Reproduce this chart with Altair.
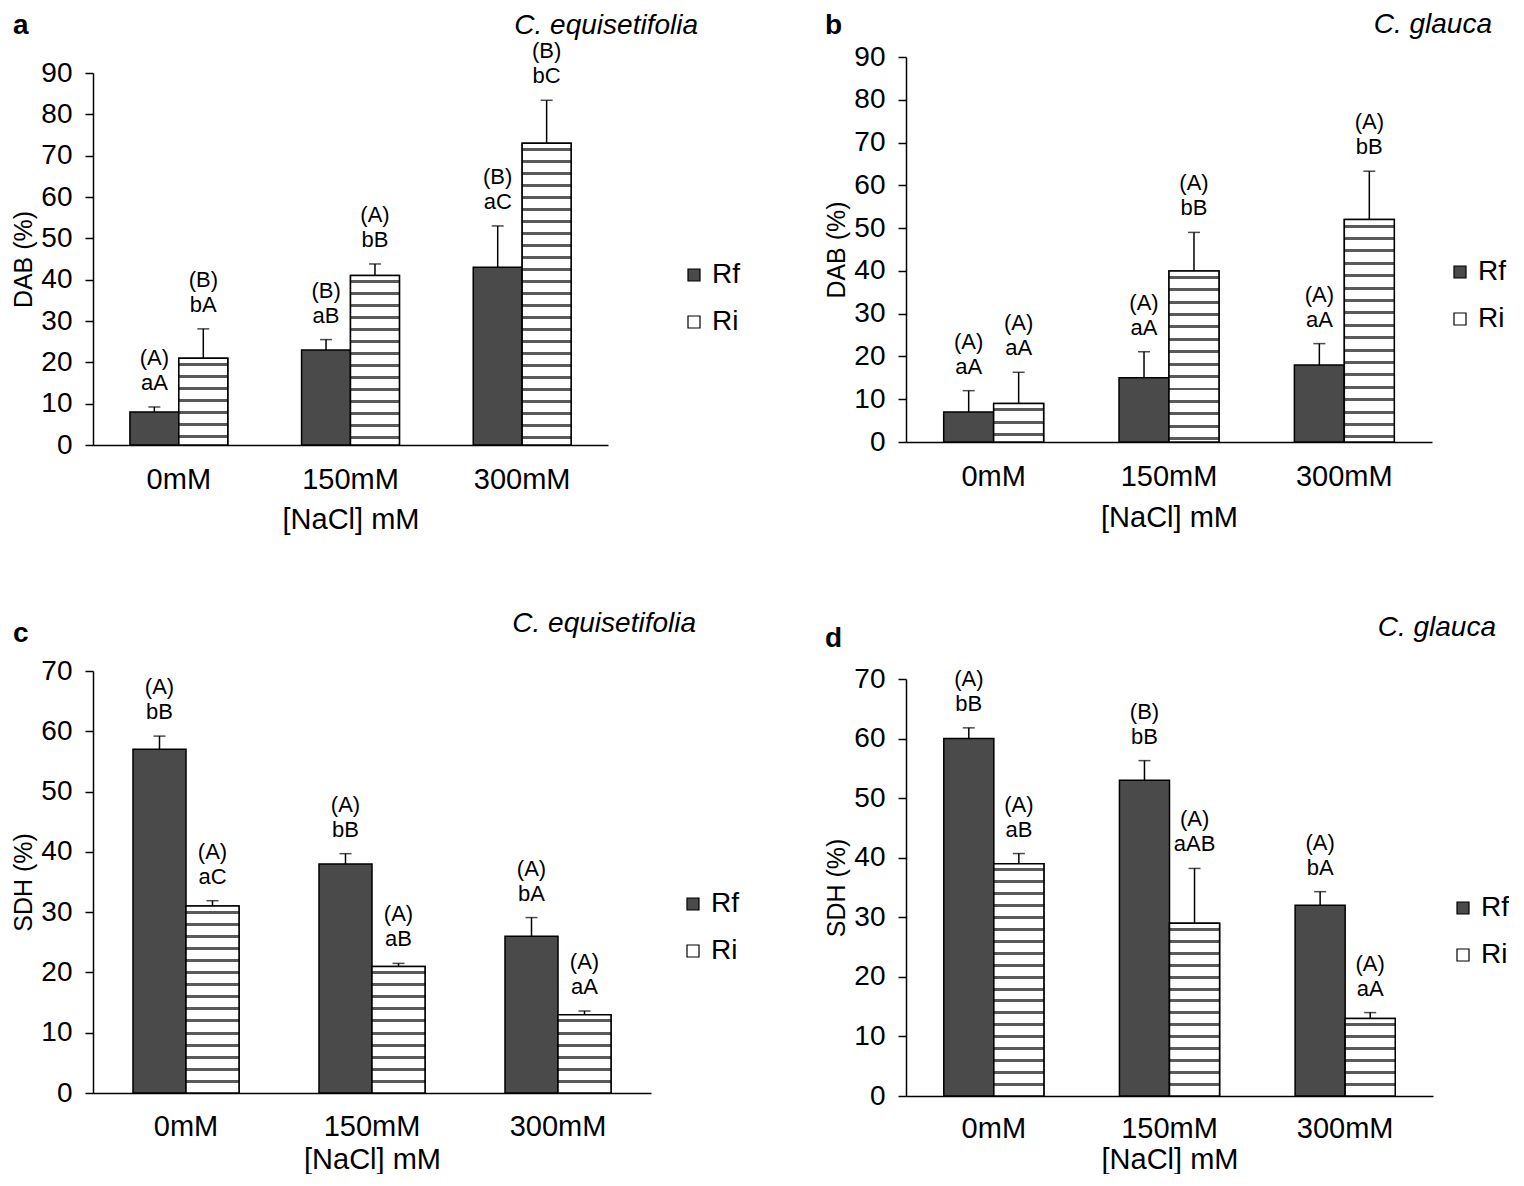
import altair as alt
import pandas as pd

FONT = "Liberation Sans"
categories = ["0mM", "150mM", "300mM"]
series = ["Rf", "Ri"]

# Panel a - DAB, C. equisetifolia
a_rf = [8, 23, 43]
a_rf_err = [1.2, 2.5, 10.0]
a_ri = [21, 41, 73]
a_ri_err = [7.1, 2.8, 10.4]
a_rf_top = ["(A)", "(B)", "(B)"]
a_rf_bot = ["aA", "aB", "aC"]
a_ri_top = ["(B)", "(A)", "(B)"]
a_ri_bot = ["bA", "bB", "bC"]

# Panel b - DAB, C. glauca
b_rf = [7, 15, 18]
b_rf_err = [5.0, 6.1, 5.0]
b_ri = [9, 40, 52]
b_ri_err = [7.3, 9.0, 11.3]
b_rf_top = ["(A)", "(A)", "(A)"]
b_rf_bot = ["aA", "aA", "aA"]
b_ri_top = ["(A)", "(A)", "(A)"]
b_ri_bot = ["aA", "bB", "bB"]

# Panel c - SDH, C. equisetifolia
c_rf = [57, 38, 26]
c_rf_err = [2.2, 1.7, 3.1]
c_ri = [31, 21, 13]
c_ri_err = [0.9, 0.5, 0.6]
c_rf_top = ["(A)", "(A)", "(A)"]
c_rf_bot = ["bB", "bB", "bA"]
c_ri_top = ["(A)", "(A)", "(A)"]
c_ri_bot = ["aC", "aB", "aA"]

# Panel d - SDH, C. glauca
d_rf = [60, 53, 32]
d_rf_err = [1.8, 3.3, 2.3]
d_ri = [39, 29, 13]
d_ri_err = [1.7, 9.2, 1.0]
d_rf_top = ["(A)", "(B)", "(A)"]
d_rf_bot = ["bB", "bB", "bA"]
d_ri_top = ["(A)", "(A)", "(A)"]
d_ri_bot = ["aB", "aAB", "aA"]

RF_FILL = "#4a4a4a"
HATCH = "#5a5a5a"


def stripe_gradient(v, period, thick):
    stops = [alt.GradientStop(offset=0, color="white")]
    pos = period * 0.4
    while pos + thick < v:
        s = pos / v
        e = (pos + thick) / v
        stops += [
            alt.GradientStop(offset=s, color="white"),
            alt.GradientStop(offset=s, color=HATCH),
            alt.GradientStop(offset=e, color=HATCH),
            alt.GradientStop(offset=e, color="white"),
        ]
        pos += period
    stops.append(alt.GradientStop(offset=1, color="white"))
    return alt.LinearGradient(gradient="linear", stops=stops, x1=0, x2=0, y1=0, y2=1)


def panel(rf, rf_err, ri, ri_err, rf_top, rf_bot, ri_top, ri_bot, ytitle, ymax,
          w, h, yrange, letter, letter_pos, species, species_pos, legend_pos,
          period, thick, lpad, tpad):
    df = pd.DataFrame({
        "cat": categories + categories,
        "ser": [series[0]] * 3 + [series[1]] * 3,
        "val": rf + ri,
        "err": rf_err + ri_err,
        "l1": rf_top + ri_top,
        "l2": rf_bot + ri_bot,
    })
    base = alt.Chart(df).transform_calculate(top="datum.val + datum.err")
    x = alt.X("cat:N", sort=categories, title="[NaCl] mM",
              scale=alt.Scale(paddingInner=0.43, paddingOuter=0.215),
              axis=alt.Axis(labelAngle=0, ticks=False, labelPadding=lpad,
                            titlePadding=tpad, labelFontSize=29, titleFontSize=29))
    xo = alt.XOffset("ser:N", sort=series)
    yscale = alt.Scale(domain=[0, ymax], range=yrange, nice=False, zero=True)
    yaxis = alt.Axis(values=list(range(0, ymax + 1, 10)), tickSize=8,
                     labelPadding=13, titlePadding=4, labelFontSize=28,
                     titleFontSize=25)

    def yenc(field):
        return alt.Y(field, title=ytitle, scale=yscale, axis=yaxis)

    bars = base.mark_bar(stroke="black", strokeWidth=1.5).encode(
        x=x, xOffset=xo, y=yenc("val:Q"),
        color=alt.Color("ser:N", scale=alt.Scale(domain=series, range=[RF_FILL, "white"]),
                        legend=alt.Legend(orient="none", legendX=legend_pos[0],
                                          legendY=legend_pos[1], title=None,
                                          symbolType="square", symbolSize=144,
                                          symbolStrokeColor="black", symbolStrokeWidth=1.2,
                                          labelFontSize=28, labelOffset=4,
                                          rowPadding=19, padding=0)))
    layers = [bars]
    for c, v in zip(categories, ri):
        layers.append(
            base.transform_filter(f"datum.ser == 'Ri' && datum.cat == '{c}'")
            .mark_bar(fill=stripe_gradient(v, period, thick), stroke="black", strokeWidth=1.5)
            .encode(x=x, xOffset=xo, y=yenc("val:Q"))
        )
    rule = base.mark_rule(color="black", strokeWidth=1.5).encode(
        x=x, xOffset=xo, y=yenc("val:Q"), y2="top:Q")
    cap = base.mark_tick(color="black", thickness=1.5, size=12).encode(
        x=x, xOffset=xo, y=yenc("top:Q"))
    t2 = base.mark_text(font=FONT, fontSize=22, baseline="alphabetic", dy=-17,
                        color="black").encode(
        x=x, xOffset=xo, y=yenc("top:Q"), text="l2:N")
    t1 = base.mark_text(font=FONT, fontSize=22, baseline="alphabetic", dy=-42,
                        color="black").encode(
        x=x, xOffset=xo, y=yenc("top:Q"), text="l1:N")
    lt = alt.Chart(pd.DataFrame({"t": [letter]})).mark_text(
        font=FONT, fontSize=28, fontWeight="bold", align="left",
        baseline="alphabetic", color="black").encode(
        text="t:N", x=alt.value(letter_pos[0]), y=alt.value(letter_pos[1]))
    sp = alt.Chart(pd.DataFrame({"t": [species]})).mark_text(
        font=FONT, fontSize=28, fontStyle="italic", align="right",
        baseline="alphabetic", color="black").encode(
        text="t:N", x=alt.value(species_pos[0]), y=alt.value(species_pos[1]))
    layers += [rule, cap, t2, t1, lt, sp]
    return alt.layer(*layers).properties(width=w, height=h)


pa = panel(a_rf, a_rf_err, a_ri, a_ri_err, a_rf_top, a_rf_bot, a_ri_top, a_ri_bot,
           "DAB (%)", 90, 515, 388, [388, 16], "a", (-80, -23),
           "C. equisetifolia", (605, -23), (587, 204), 2.9, 0.7, 20, 11)
pb = panel(b_rf, b_rf_err, b_ri, b_ri_err, b_rf_top, b_rf_bot, b_ri_top, b_ri_bot,
           "DAB (%)", 90, 526, 385, [385, 0], "b", (-81, -23),
           "C. glauca", (586, -24), (540, 201), 2.9, 0.7, 20, 12)
pc = panel(c_rf, c_rf_err, c_ri, c_ri_err, c_rf_top, c_rf_bot, c_ri_top, c_ri_bot,
           "SDH (%)", 70, 558, 422, [422, 0], "c", (-80, -29),
           "C. equisetifolia", (603, -39), (586, 219), 2.0, 0.5, 19, 4)
pd_ = panel(d_rf, d_rf_err, d_ri, d_ri_err, d_rf_top, d_rf_bot, d_ri_top, d_ri_bot,
            "SDH (%)", 70, 527, 425, [425, 8], "d", (-81, -24),
            "C. glauca", (590, -35), (543, 223), 2.0, 0.5, 18, 2)

chart = alt.concat(pa, pb, pc, pd_, columns=2, align="each",
                   spacing=alt.RowColnumber(row=76, column=84)).resolve_scale(
    x="independent", y="independent", color="independent", xOffset="independent"
).resolve_legend(color="independent").configure_view(strokeWidth=0).configure_axis(
    domainColor="black", domainWidth=1.5, tickColor="black", tickWidth=1.5,
    labelColor="black", titleColor="black", labelFont=FONT, titleFont=FONT,
    titleFontWeight="normal", grid=False
).configure_legend(labelFont=FONT, labelColor="black").properties(
    padding={"left": 3, "top": 3, "right": 0, "bottom": 0})

chart.save("out.html", embed_options={"renderer": "svg", "actions": False})
